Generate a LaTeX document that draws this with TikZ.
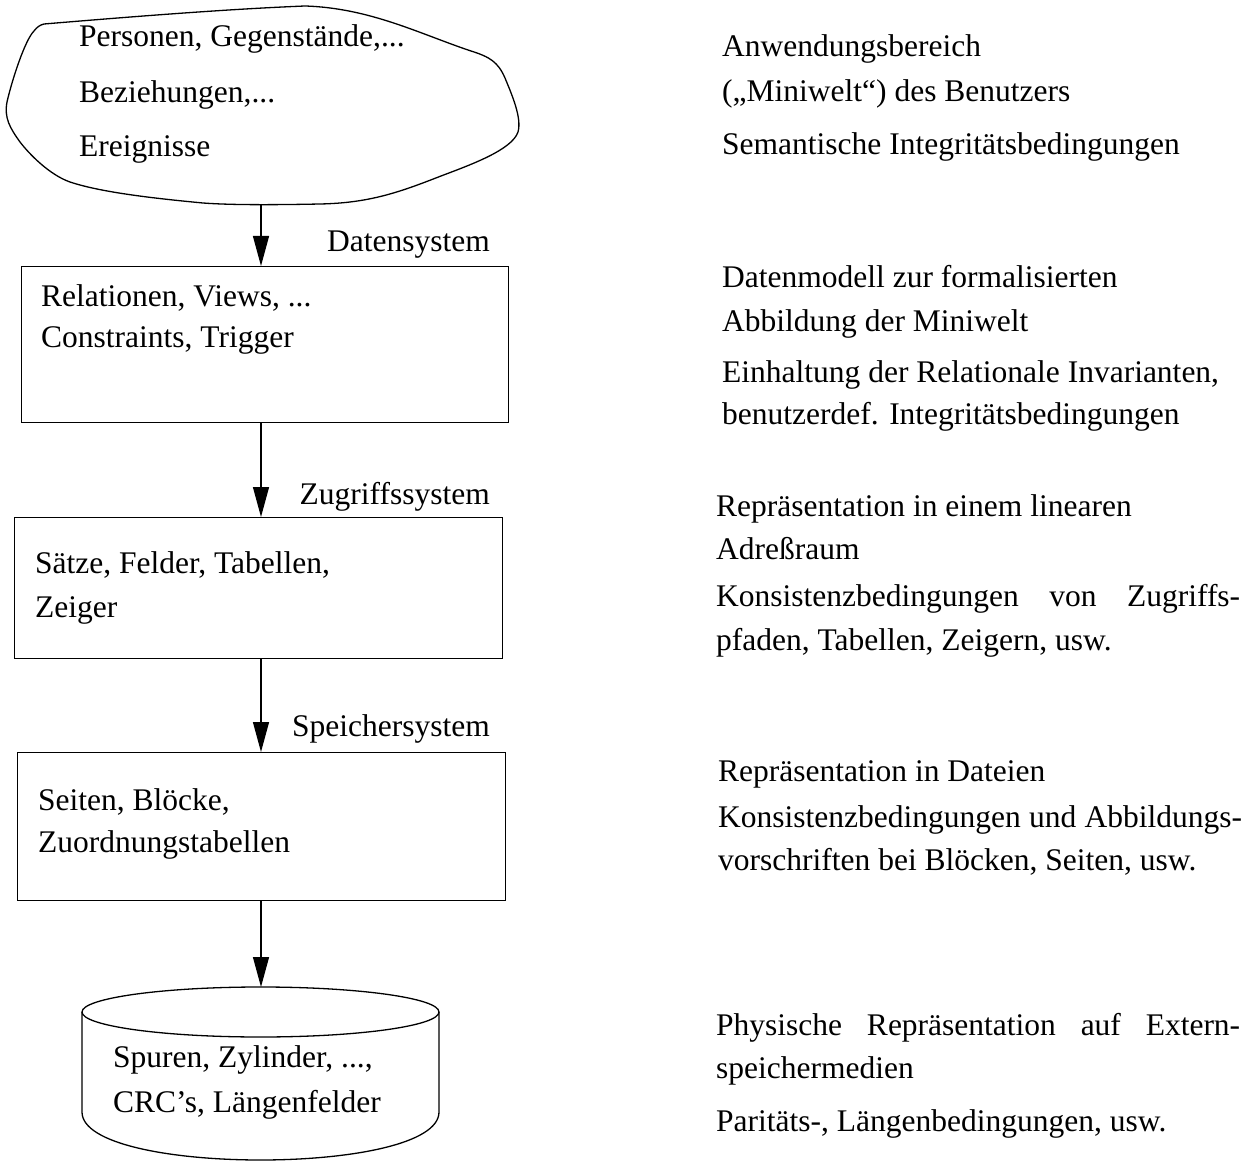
\documentclass[tikz,border=0pt]{standalone}
\usepackage{fontspec}
\setmainfont{Liberation Serif}
\usetikzlibrary{arrows.meta}
\tikzset{
  txt/.style={font=\fontsize{31.5}{38}\selectfont, inner sep=0pt, anchor=base west},
  txtr/.style={txt, anchor=base east},
  outl/.style={line width=1.3pt},
  boxr/.style={draw, line width=1.3pt, anchor=north west, inner sep=0pt},
  arr/.style={line width=1.3pt, -{Triangle[length=30pt,width=16pt]}}
}
\newcommand{\jline}[1]{\makebox[524pt][s]{#1}}
\begin{document}
\begin{tikzpicture}[x=1pt,y=-1pt]
\useasboundingbox (0,0) rectangle (1254,1161);
% cloud (Miniwelt)
\draw[outl] (44,24) .. controls (140,16) and (230,9) .. (305,6)
  .. controls (370,8) and (420,34) .. (471,51)
  .. controls (490,57) and (498,62) .. (505,78)
  .. controls (512,95) and (522,118) .. (518,132)
  .. controls (512,150) and (470,165) .. (441,176)
  .. controls (400,192) and (370,203) .. (320,204)
  .. controls (270,205) and (230,205) .. (203,203)
  .. controls (150,198) and (100,192) .. (70,182)
  .. controls (50,175) and (30,155) .. (20,142)
  .. controls (10,128) and (4,118) .. (7,102)
  .. controls (12,80) and (25,40) .. (34,31)
  .. controls (37,27) and (40,25) .. (44,24) -- cycle;
\coordinate (cloudbot) at (261,204);
\node[txt] (c1) at (79,47) {Personen, Gegenstände,...};
\node[txt] (c2) at (79,103) {Beziehungen,...};
\node[txt] (c3) at (79,157) {Ereignisse};
% boxes
\node[boxr, minimum width=487pt, minimum height=156pt] (b1) at (21,266) {};
\node[boxr, minimum width=488pt, minimum height=141pt] (b2) at (14,517) {};
\node[boxr, minimum width=488pt, minimum height=148pt] (b3) at (17,752) {};
\node[txt] (b1a) at (41,306) {Relationen, Views, ...};
\node[txt] (b1b) at (41,348) {Constraints, Trigger};
\node[txt] (b2a) at (35,573) {Sätze, Felder, Tabellen,};
\node[txt] (b2b) at (35,617) {Zeiger};
\node[txt] (b3a) at (38,810) {Seiten, Blöcke,};
\node[txt] (b3b) at (38,852) {Zuordnungstabellen};
% cylinder
\draw[outl] (260.5,1012) ellipse [x radius=178.5, y radius=25];
\draw[outl] (82,1012) -- (82,1112) .. controls (82,1176) and (439,1176) .. (439,1112) -- (439,1012);
\coordinate (cyltop) at (261,987);
\node[txt] (d1) at (113,1067) {Spuren, Zylinder, ...,};
\node[txt] (d2) at (113,1112) {CRC’s, Längenfelder};
% arrows
\draw[arr] (cloudbot) -- (cloudbot |- b1.north);
\draw[arr] (b1.south -| cloudbot) -- (cloudbot |- b2.north);
\draw[arr] (b2.south -| cloudbot) -- (cloudbot |- b3.north);
\draw[arr] (b3.south -| cloudbot) -- (cyltop);
% level labels
\node[txtr] (l1) at (490,252) {Datensystem};
\node[txtr] (l2) at (490,504) {Zugriffssystem};
\node[txtr] (l3) at (490,736) {Speichersystem};
% right column
\node[txt] (r1a) at (722,57) {Anwendungsbereich};
\node[txt] (r1b) at (722,102) {(„Miniwelt“) des Benutzers};
\node[txt] (r1c) at (722,155) {Semantische Integritätsbedingungen};
\node[txt] (r2a) at (722,288) {Datenmodell zur formalisierten};
\node[txt] (r2b) at (722,331) {Abbildung der Miniwelt};
\node[txt] (r2c) at (722,382) {Einhaltung der Relationale Invarianten,};
\node[txt] (r2d) at (722,424) {benutzerdef. Integritätsbedingungen};
\node[txt] (r3a) at (716,516) {Repräsentation in einem linearen};
\node[txt] (r3b) at (716,559) {Adreßraum};
\node[txt] (r3c) at (716,606) {\jline{Konsistenzbedingungen von Zugriffs-}};
\node[txt] (r3d) at (716,650) {pfaden, Tabellen, Zeigern, usw.};
\node[txt] (r4a) at (718,781) {Repräsentation in Dateien};
\node[txt] (r4b) at (718,827) {\jline{Konsistenzbedingungen und Abbildungs-}};
\node[txt] (r4c) at (718,870) {vorschriften bei Blöcken, Seiten, usw.};
\node[txt] (r5a) at (716,1035) {\jline{Physische Repräsentation auf Extern-}};
\node[txt] (r5b) at (716,1078) {speichermedien};
\node[txt] (r5c) at (716,1131) {Paritäts-, Längenbedingungen, usw.};
\end{tikzpicture}
\end{document}
